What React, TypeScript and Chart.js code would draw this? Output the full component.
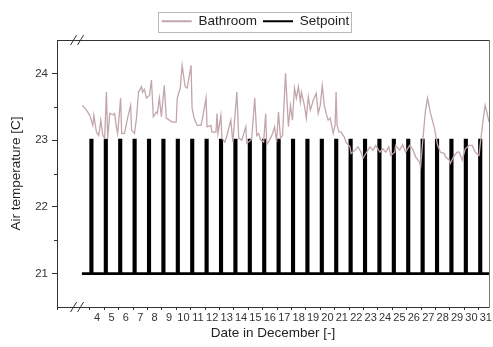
import React, { useEffect, useRef } from 'react';
import { Chart, registerables } from 'chart.js';

Chart.register(...registerables);

// Bathroom air temperature, December (day of month, fractional)
const bathDays = [
  3.47, 3.77, 4.0, 4.14, 4.21, 4.28, 4.46, 4.62, 4.76, 4.9,
  5.03, 5.15, 5.24, 5.38, 5.59, 5.72, 5.84, 5.93, 6.14, 6.21,
  6.41, 6.62, 6.83, 6.9, 7.1, 7.24, 7.38, 7.59, 7.66, 7.79,
  7.93, 8.14, 8.28, 8.41, 8.62, 8.69, 8.83, 8.97, 9.17, 9.31,
  9.52, 9.72, 10.0, 10.07, 10.28, 10.41, 10.62, 10.76, 11.03, 11.1,
  11.24, 11.45, 11.72, 11.86, 12.07, 12.14, 12.41, 12.48, 12.76, 12.83,
  12.9, 13.1, 13.17, 13.38, 13.52, 13.79, 13.93, 14.21, 14.34, 14.55,
  14.83, 14.9, 15.17, 15.24, 15.45, 15.59, 15.72, 15.86, 16.07, 16.21,
  16.28, 16.55, 16.69, 16.83, 16.97, 17.1, 17.24, 17.38, 17.59, 17.79,
  17.93, 18.07, 18.21, 18.34, 18.48, 18.62, 18.69, 18.9, 19.03, 19.17,
  19.31, 19.52, 19.72, 19.86, 20.0, 20.14, 20.28, 20.41, 20.55, 20.69,
  20.76, 20.9, 21.03, 21.1, 21.17, 21.31, 21.45, 21.66, 21.79, 22.07,
  22.14, 22.41, 22.62, 22.83, 22.97, 23.17, 23.45, 23.66, 23.86, 24.14,
  24.34, 24.55, 24.76, 24.9, 25.17, 25.24, 25.52, 25.72, 25.93, 26.21,
  26.41, 26.62, 26.9, 26.97, 27.17, 27.31, 27.45, 27.66, 27.93, 28.14,
  28.34, 28.62, 28.69, 28.97, 29.03, 29.31, 29.52, 29.66, 29.86, 30.07,
  30.34, 30.55, 30.76, 31.03, 31.1, 31.31, 31.45, 31.59, 31.72,
];

const bathTemps = [
  23.52, 23.45, 23.37, 23.27, 23.22, 23.37, 23.12, 23.07, 23.3, 23.07,
  23.03, 23.72, 23.03, 23.4, 23.38, 23.4, 23.2, 23.1, 23.63, 23.1,
  23.1, 23.33, 23.52, 23.15, 23.1, 23.33, 23.72, 23.8, 23.72, 23.76,
  23.63, 23.67, 23.9, 23.35, 23.42, 23.4, 23.63, 23.35, 23.82, 23.33,
  23.3, 23.27, 23.27, 23.63, 23.78, 24.12, 23.8, 23.78, 24.12, 23.48,
  23.33, 23.22, 23.22, 23.37, 23.63, 23.2, 23.22, 23.12, 23.12, 23.4,
  23.1, 23.37, 23.03, 22.97, 23.07, 23.3, 22.97, 23.72, 23.03, 23.0,
  23.2, 22.95, 23.0, 23.02, 23.63, 23.07, 23.1, 23.0, 22.97, 23.4,
  22.93, 23.03, 23.1, 23.2, 22.97, 23.42, 23.03, 23.07, 24.0, 23.2,
  23.52, 23.3, 23.78, 23.63, 23.8, 23.57, 23.72, 23.52, 23.33, 23.65,
  23.45, 23.6, 23.7, 23.4, 23.52, 23.82, 23.52, 23.4, 23.3, 23.33,
  23.25, 23.1, 23.22, 23.72, 23.22, 23.12, 23.12, 23.05, 22.97, 22.9,
  22.8, 22.85, 22.9, 22.82, 22.73, 22.8, 22.9, 22.85, 22.92, 22.82,
  22.87, 22.82, 22.9, 22.77, 22.82, 22.92, 22.85, 22.93, 22.82, 22.92,
  22.87, 22.75, 22.67, 22.6, 23.12, 23.45, 23.63, 23.4, 23.18, 22.93,
  22.82, 22.8, 22.75, 22.7, 22.65, 22.77, 22.82, 22.82, 22.7, 22.87,
  22.92, 22.92, 22.82, 22.77, 22.92, 23.3, 23.52, 23.4, 23.27,
];

// Heating setpoint: low all day, raised briefly once per day
const SETPOINT_LOW = 21;
const SETPOINT_HIGH = 23;
const SETPOINT_START = 3.45;
const setpointDays = [
  4, 5, 6, 7, 8, 9, 10, 11, 12, 13, 14, 15, 16, 17,
  18, 19, 20, 21, 22, 23, 24, 25, 26, 27, 28, 29, 30, 31,
];
const HIGH_ON = 0.06; // fraction of the day when the setpoint goes up
const HIGH_OFF = 0.16; // fraction of the day when it drops back

// Axes
const X_MIN = 1.72;
const X_MAX = 31.72;
const Y_MIN = 20.5;
const Y_MAX = 24.5;
const dayLabels = setpointDays;
const yMajorTicks = [21, 22, 23, 24];
const yMinorTicks = [21.5, 22.5, 23.5];
const BREAK_DAY = 3.15;

const FONT = "'Liberation Sans', Arial, Helvetica, sans-serif";
const NARROW = "'Liberation Sans Narrow', 'Liberation Sans', Arial, sans-serif";
const AXIS = '#333333';
const BATH_COLOR = '#c2a6aa';

const setpointPoints = (() => {
  const pts: { x: number; y: number }[] = [{ x: SETPOINT_START, y: SETPOINT_LOW }];
  for (const d of setpointDays) {
    pts.push({ x: d + HIGH_ON, y: SETPOINT_LOW });
    pts.push({ x: d + HIGH_ON, y: SETPOINT_HIGH });
    pts.push({ x: d + HIGH_OFF, y: SETPOINT_HIGH });
    pts.push({ x: d + HIGH_OFF, y: SETPOINT_LOW });
  }
  pts.push({ x: X_MAX, y: SETPOINT_LOW });
  return pts;
})();

const bathPoints = bathDays.map((x, i) => ({ x, y: bathTemps[i] }));

// tick marks sit at day boundaries, labels at midday
const xTickValues = [X_MIN, ...dayLabels.flatMap((d) => [d, d + 0.5])];
const isLabelTick = (v: number) => Math.abs((v % 1) - 0.5) < 1e-6;

const decorations = {
  id: 'decorations',
  afterDraw(chart: any) {
    const { ctx, chartArea, scales } = chart;
    ctx.save();
    // minor ticks on the temperature axis
    ctx.strokeStyle = AXIS;
    ctx.lineWidth = 1;
    for (const v of yMinorTicks) {
      const py = Math.round(scales.y.getPixelForValue(v)) + 0.5;
      ctx.beginPath();
      ctx.moveTo(chartArea.left - 3, py);
      ctx.lineTo(chartArea.left, py);
      ctx.stroke();
    }
    // axis break marks on the top and bottom spines
    const bx = scales.x.getPixelForValue(BREAK_DAY);
    for (const yy of [chartArea.top, chartArea.bottom]) {
      for (const off of [-4, 3]) {
        ctx.beginPath();
        ctx.moveTo(bx + off - 3, yy + 5);
        ctx.lineTo(bx + off + 3, yy - 5);
        ctx.stroke();
      }
    }
    // frame around the legend
    const boxes = chart.legend?.legendHitBoxes;
    if (boxes && boxes.length) {
      const first = boxes[0];
      const last = boxes[boxes.length - 1];
      const x0 = Math.round(first.left - 4) + 0.5;
      const x1 = Math.round(last.left + last.width + 2) + 0.5;
      const y0 = Math.round(first.top - 3) + 0.5;
      const y1 = Math.round(first.top + first.height + 4) + 0.5;
      ctx.strokeStyle = '#b8b8b8';
      ctx.strokeRect(x0, y0, x1 - x0, y1 - y0);
    }
    ctx.restore();
  },
};

export default function App() {
  const canvasRef = useRef<HTMLCanvasElement | null>(null);

  useEffect(() => {
    if (!canvasRef.current) return;
    const chart = new Chart(canvasRef.current, {
      type: 'line',
      data: {
        datasets: [
          {
            label: 'Bathroom',
            data: bathPoints,
            borderColor: BATH_COLOR,
            backgroundColor: BATH_COLOR,
            borderWidth: 1.3,
            pointRadius: 0,
            tension: 0,
          },
          {
            label: 'Setpoint',
            data: setpointPoints,
            borderColor: '#000000',
            backgroundColor: '#000000',
            borderWidth: 2.7,
            borderJoinStyle: 'miter',
            pointRadius: 0,
            tension: 0,
          },
        ],
      },
      options: {
        animation: false,
        responsive: false,
        events: [],
        layout: { padding: { left: 19, right: 1, top: 8.5, bottom: 0 } },
        plugins: {
          tooltip: { enabled: false },
          legend: {
            display: true,
            position: 'top',
            labels: {
              boxWidth: 30,
              boxHeight: 2,
              padding: 6,
              color: '#222222',
              font: { family: FONT, size: 13.5 },
              generateLabels: (chart: any) =>
                chart.data.datasets.map((ds: any, i: number) => ({
                  text: ds.label,
                  fillStyle: ds.borderColor,
                  strokeStyle: ds.borderColor,
                  lineWidth: 0,
                  hidden: false,
                  datasetIndex: i,
                  fontColor: '#222222',
                })),
            },
          },
        },
        scales: {
          x: {
            type: 'linear',
            position: 'bottom',
            min: X_MIN,
            max: X_MAX,
            afterBuildTicks: (s: any) => {
              s.ticks = xTickValues.map((v) => ({ value: v }));
            },
            afterFit: (s: any) => {
              s.height = 40;
            },
            ticks: {
              autoSkip: false,
              maxRotation: 0,
              minRotation: 0,
              padding: 1,
              color: AXIS,
              font: { family: NARROW, size: 11 },
              callback: (v: any) => (isLabelTick(Number(v)) ? String(Math.floor(Number(v))) : ''),
            },
            grid: {
              display: true,
              drawOnChartArea: false,
              drawTicks: true,
              tickLength: 3,
              tickWidth: 1,
              tickColor: (c: any) =>
                c.tick && isLabelTick(c.tick.value) ? 'rgba(0,0,0,0)' : AXIS,
            },
            border: { display: true, color: AXIS, width: 1 },
            title: {
              display: true,
              text: 'Date in December [-]',
              color: '#222222',
              font: { family: FONT, size: 13.5 },
              padding: { top: 0, bottom: 5.5 },
            },
          },
          xTop: {
            type: 'linear',
            position: 'top',
            min: X_MIN,
            max: X_MAX,
            ticks: { display: false },
            grid: { display: false },
            border: { display: true, color: AXIS, width: 1 },
            afterFit: (s: any) => {
              s.height = 2;
            },
          },
          y: {
            type: 'linear',
            position: 'left',
            min: Y_MIN,
            max: Y_MAX,
            afterBuildTicks: (s: any) => {
              s.ticks = yMajorTicks.map((v) => ({ value: v }));
            },
            afterFit: (s: any) => {
              s.width = 38;
            },
            ticks: {
              padding: 4,
              color: AXIS,
              font: { family: FONT, size: 11.5 },
              callback: (v: any) => String(v),
            },
            grid: {
              display: true,
              drawOnChartArea: false,
              tickLength: 5,
              tickWidth: 1,
              tickColor: AXIS,
            },
            border: { display: true, color: AXIS, width: 1 },
            title: {
              display: true,
              text: 'Air temperature [C]',
              color: '#222222',
              font: { family: FONT, size: 13.5 },
              padding: { top: -11.1, bottom: 0 },
            },
          },
          yRight: {
            type: 'linear',
            position: 'right',
            min: Y_MIN,
            max: Y_MAX,
            ticks: { display: false },
            grid: { display: false },
            border: { display: true, color: '#777777', width: 1 },
            afterFit: (s: any) => {
              s.width = 0;
            },
          },
        },
      },
      plugins: [decorations],
    } as any);
    return () => chart.destroy();
  }, []);

  return (
    <div style={{ position: 'absolute', left: 0, top: 0, width: 493, height: 347, background: '#ffffff' }}>
      <canvas ref={canvasRef} width={493} height={347} />
    </div>
  );
}
